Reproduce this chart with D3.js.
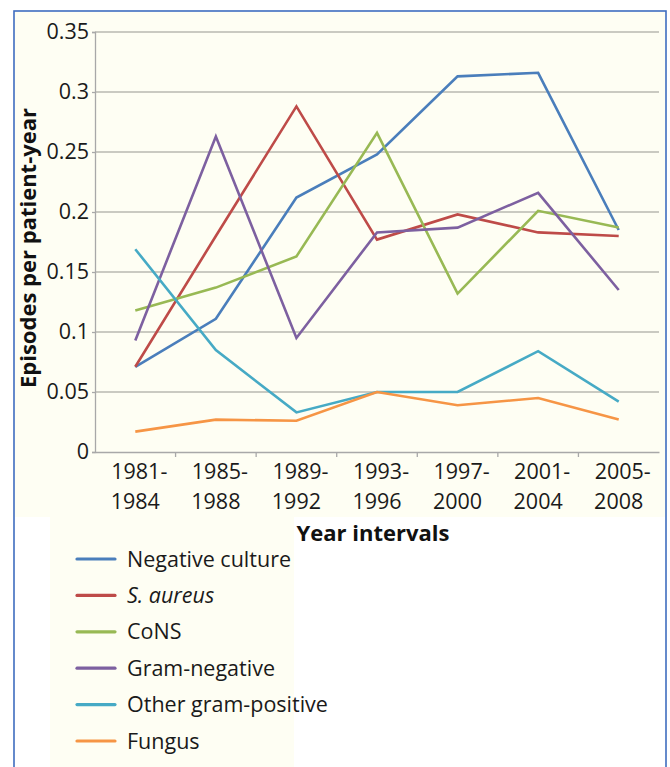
<!DOCTYPE html>
<html>
<head>
<meta charset="utf-8">
<script src="https://cdn.jsdelivr.net/npm/d3@7/dist/d3.min.js"></script>
<style>
  html, body { margin: 0; padding: 0; background: #ffffff; }
  svg { display: block; font-family: "Open Sans", "Noto Sans", sans-serif; }
</style>
</head>
<body>
<svg id="chart" width="670" height="767"></svg>
<script>
const categories = ["1981-1984", "1985-1988", "1989-1992", "1993-1996", "1997-2000", "2001-2004", "2005-2008"];
const seriesNames = ["Negative culture", "S. aureus", "CoNS", "Gram-negative", "Other gram-positive", "Fungus"];
const negativeCulture   = [0.071, 0.111, 0.212, 0.248, 0.313, 0.316, 0.185];
const sAureus           = [0.071, 0.180, 0.288, 0.177, 0.198, 0.183, 0.180];
const cons              = [0.118, 0.137, 0.163, 0.266, 0.132, 0.201, 0.187];
const gramNegative      = [0.093, 0.263, 0.095, 0.183, 0.187, 0.216, 0.135];
const otherGramPositive = [0.169, 0.085, 0.033, 0.050, 0.050, 0.084, 0.042];
const fungus            = [0.017, 0.027, 0.026, 0.050, 0.039, 0.045, 0.027];
const yTicks = [0, 0.05, 0.1, 0.15, 0.2, 0.25, 0.3, 0.35];
const colors = ["#4A7EBB", "#BE4B48", "#98B954", "#7D60A0", "#46AAC5", "#F69545"];

const seriesValues = [negativeCulture, sAureus, cons, gramNegative, otherGramPositive, fungus];

const svg = d3.select("#chart");

// outer frame
svg.append("rect").attr("x", 14).attr("y", 11).attr("width", 652).attr("height", 770)
  .attr("fill", "#ffffff").attr("stroke", "#3F6DBF").attr("stroke-width", 1.6);
// chart background
svg.append("rect").attr("x", 15).attr("y", 12).attr("width", 650).attr("height", 505)
  .attr("fill", "#FEFEF3");
// legend background
svg.append("rect").attr("x", 50).attr("y", 517).attr("width", 244).attr("height", 260)
  .attr("fill", "#FEFEF3");

const pLeft = 95, pRight = 659, pTop = 32, pBottom = 452;

const x = d3.scaleBand().domain(categories).range([pLeft, pRight]);
const xp = d => x(d) + x.bandwidth() / 2;
const y = d3.scaleLinear().domain([0, 0.35]).range([pBottom, pTop]);

// gridlines
svg.append("g").selectAll("line").data(yTicks.filter(t => t > 0)).join("line")
  .attr("x1", pLeft).attr("x2", pRight)
  .attr("y1", d => y(d)).attr("y2", d => y(d))
  .attr("stroke", "#B8B8B0").attr("stroke-width", 1.3);

// y axis
const yAxis = svg.append("g").attr("transform", `translate(${pLeft},0)`)
  .call(d3.axisLeft(y).tickValues(yTicks).tickSize(3).tickPadding(3)
    .tickFormat(d => d === 0 ? "0" : String(+d.toFixed(2))));
yAxis.select(".domain").attr("stroke", "#A8A8A8").attr("stroke-width", 1.3);
yAxis.selectAll(".tick line").attr("stroke", "#A8A8A8").attr("stroke-width", 1.3);
yAxis.selectAll(".tick text").attr("fill", "#1a1a1a").style("font-size", "21.5px")
  .style("font-family", "'Open Sans', sans-serif");

// x axis
const xAxis = svg.append("g").attr("transform", `translate(0,${pBottom})`)
  .call(d3.axisBottom(x).tickSize(0).tickFormat(""));
xAxis.select(".domain").attr("stroke", "#A8A8A8").attr("stroke-width", 1.3);
// tick marks at band boundaries
svg.append("g").selectAll("line").data(categories.slice(1)).join("line")
  .attr("x1", d => x(d)).attr("x2", d => x(d))
  .attr("y1", pBottom).attr("y2", pBottom + 5)
  .attr("stroke", "#A8A8A8").attr("stroke-width", 1.3);
// x labels (two lines)
const xl = svg.append("g").selectAll("text").data(categories).join("text")
  .attr("x", d => xp(d)).attr("y", 479)
  .attr("text-anchor", "middle").attr("fill", "#1a1a1a")
  .style("font-size", "21.5px");
xl.append("tspan").attr("x", d => xp(d)).attr("dx", 4).text(d => d.split("-")[0] + "-");
xl.append("tspan").attr("x", d => xp(d)).attr("dy", 30).text(d => d.split("-")[1]);

// axis titles
svg.append("text").attr("transform", "translate(36,248) rotate(-90)")
  .attr("text-anchor", "middle").attr("fill", "#111").style("font-weight", "bold")
  .style("font-size", "22px").text("Episodes per patient-year");
svg.append("text").attr("x", 373).attr("y", 541)
  .attr("text-anchor", "middle").attr("fill", "#111").style("font-weight", "bold")
  .style("font-size", "22px").text("Year intervals");

// lines
const line = d3.line().x((d, i) => xp(categories[i])).y(d => y(d));
svg.append("g").selectAll("path").data(seriesValues).join("path")
  .attr("d", d => line(d)).attr("fill", "none")
  .attr("stroke", (d, i) => colors[i]).attr("stroke-width", 2.6)
  .attr("stroke-linejoin", "miter");

// legend
const lg = svg.append("g").selectAll("g").data(seriesNames).join("g")
  .attr("transform", (d, i) => `translate(0,${559 + i * 36.4})`);
lg.append("line").attr("x1", 77).attr("x2", 115).attr("y1", 0).attr("y2", 0)
  .attr("stroke", (d, i) => colors[i]).attr("stroke-width", 3.2).attr("stroke-linecap", "round");
lg.append("text").attr("x", 127).attr("y", 7.5).attr("fill", "#1a1a1a")
  .style("font-size", "21.5px")
  .style("font-style", d => d === "S. aureus" ? "italic" : "normal")
  .text(d => d);
</script>
</body>
</html>
